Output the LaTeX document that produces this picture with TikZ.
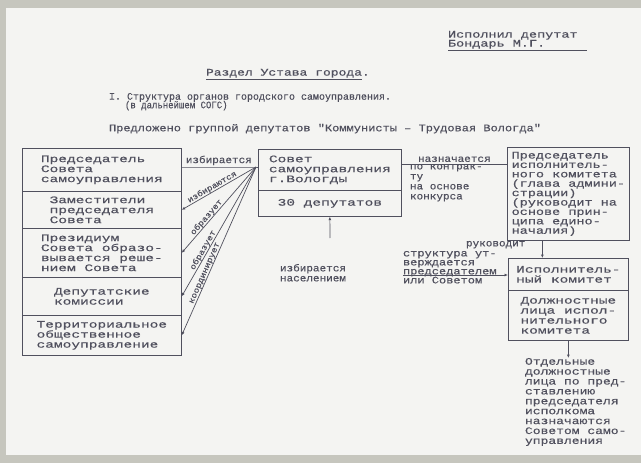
\documentclass[tikz,border=0pt]{standalone}
\usepackage{fontspec}
\setmainfont{Liberation Mono}
\newcommand\fs[1]{\fontspec[FakeStretch=#1,FakeBold=0.4]{Liberation Mono}\fontsize{10}{10}\selectfont}
\newcommand\fsl[2]{\fontspec[FakeStretch=#1,FakeBold=0.4]{Liberation Mono}\fontsize{10}{#2}\selectfont}
\newcommand\fss[1]{\fontspec[FakeStretch=#1,FakeBold=0.4]{Liberation Mono}\fontsize{8}{8}\selectfont}
\usetikzlibrary{arrows.meta}
\definecolor{ink}{HTML}{50505E}
\definecolor{paper}{HTML}{F4F4F2}
\definecolor{rim}{HTML}{C6C6BE}
\begin{document}
\begin{tikzpicture}[x=1pt,y=-1pt,
  txt/.style={inner sep=0pt, outer sep=0pt, anchor=north west, align=left, text=ink},
  bx/.style={draw=ink, line width=0.7pt, inner sep=0pt, align=left, text=ink, anchor=north west, font=\fs{1.45}},
  ln/.style={draw=ink, line width=0.7pt},
  ar/.style={ln, -{Latex[length=3.5pt,width=3pt]}},
  lab/.style={inner sep=0.5pt, text=ink, font=\fs{1.1}},
  dlab/.style={inner sep=0.3pt, text=ink, font=\fss{1.15}}]
\fill[rim] (0,0) rectangle (641,463);
\fill[paper] (6,8) rectangle (641,455);
\useasboundingbox (0,0) rectangle (641,463);

% header
\node[txt, font={\fsl{1.35}{9}}] (h1) at (448,31) {Исполнил депутат\\Бондарь М.Г.};
\draw[ln] ([yshift=-2pt]h1.south west) -- ++(139,0);
\node[txt, font=\fs{1.3}] (h2) at (206,69) {Раздел Устава города.};
\draw[ln] ([yshift=-2pt]h2.south west) -- ++(156,0);
\node[txt, font=\fs{1.0}] (h3) at (109,93) {I. Структура органов городского самоуправления.};
\node[txt, font=\fs{0.9}] (h4) at (125,101) {(в дальнейшем СОГС)};
\node[txt, font=\fs{1.2}] (h5) at (109,124) {Предложено группой депутатов "Коммунисты – Трудовая Вологда"};

% left column
\node[bx, minimum width=159pt, minimum height=43pt] (b1) at (22,148) {Председатель\\Совета\\самоуправления};
\node[bx, minimum width=159pt, minimum height=37pt] (b2) at (22,191) {Заместители\\председателя\\Совета};
\node[bx, minimum width=159pt, minimum height=49pt] (b3) at (22,228) {Президиум\\Совета образо-\\вывается реше-\\нием Совета};
\node[bx, minimum width=159pt, minimum height=38pt] (b4) at (22,277) {Депутатские\\комиссии};
\node[bx, minimum width=159pt, minimum height=40pt] (b5) at (22,315) {Территориальное\\общественное\\самоуправление};

% council
\node[bx, minimum width=143pt, minimum height=41pt] (c1) at (258,149) {Совет\\самоуправления\\г.Вологды};
\node[bx, minimum width=143pt, minimum height=26pt] (c2) at (258,190) {30 депутатов};

% chairman of executive committee
\node[bx, font={\fsl{1.35}{9.4}}, minimum width=122pt, minimum height=93pt] (ch) at (507,147)
  {Председатель\\исполнитель-\\ного комитета\\(глава админи-\\страции)\\(руководит на\\основе прин-\\ципа едино-\\началия)};
\node[bx, minimum width=120pt, minimum height=32pt] (ex) at (508,258) {Исполнитель-\\ный комитет};
\node[bx, minimum width=120pt, minimum height=50pt] (of) at (508,290) {Должностные\\лица испол-\\нительного\\комитета};

% connectors from council to the left column
\coordinate (F) at (256,167);
\draw[ln] (b1.east |- F) -- node[lab, above=1pt]{избирается} (F) -- (c1.west |- F);
\draw[ar] (F) -- node[dlab, sloped, above, pos=0.56]{избираются} (b2.east);
\draw[ar] (F) -- node[dlab, sloped, above, pos=0.62]{образует} (b3.east);
\draw[ar] (F) -- node[dlab, sloped, above, pos=0.66]{образует} (b4.east);
\draw[ar] (F) -- node[dlab, sloped, above, pos=0.64]{координирует} (b5.east);

% elected by population
\node[txt, font=\fs{1.1}] (pop) at (280,264) {избирается\\населением};
\coordinate (P) at (330,238);
\draw[ar] (P) -- (c2.south);

% appointed
\draw[ln] ([yshift=6pt]c1.east) -- node[lab, above=1pt]{назначается} ([yshift=6pt]c1.east -| ch.west);
\node[txt, font=\fs{1.1}] (con) at (410,164) {по контрак-\\ту\\на основе\\конкурса};

% leads
\node[txt, font=\fs{1.1}] (ruk) at (466,241) {руководит};
\draw[ar] ([xshift=-26pt]ch.south) -- ([xshift=-26pt]ex.north);

% structure
\node[txt, font={\fsl{1.2}{9}}] (str) at (403,251) {структура ут-\\верждается\\председателем\\или Советом};
\coordinate (S) at (403,275);
\draw[ar] (S) -- (S -| ex.west);

% separate officials
\node[txt, font={\fsl{1.3}{9.9}}] (sep) at (525,358) {Отдельные\\должностные\\лица по пред-\\ставлению\\председателя\\исполкома\\назначаются\\Советом само-\\управления};
\draw[ar] (of.south) -- (of.south |- sep.north);
\end{tikzpicture}
\end{document}
